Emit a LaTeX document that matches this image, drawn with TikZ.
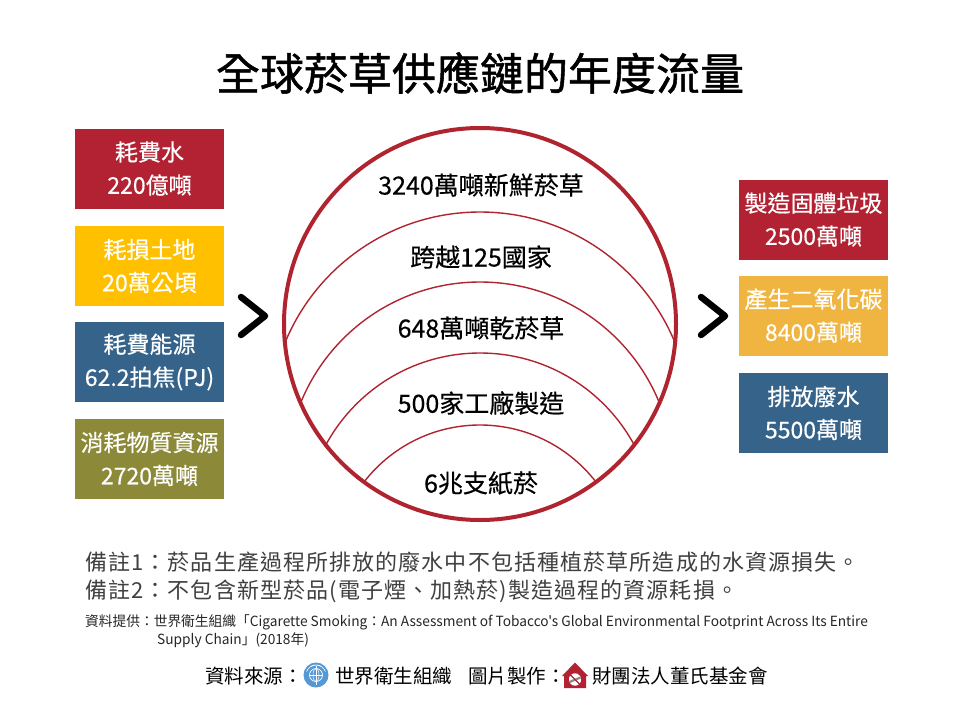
\documentclass[tikz,border=0pt]{standalone}
\usepackage{fontspec}
\setmainfont{Noto Sans CJK TC}
\newfontfamily\titlefont[FakeBold=1.2]{Noto Sans CJK TC}
\newfontfamily\medfont[FakeBold=0.4]{Noto Sans CJK TC}
\newfontfamily\notefont[LetterSpace=5]{Noto Sans CJK TC}
\newfontfamily\srcfont[FakeStretch=0.98]{Noto Sans CJK TC}
\definecolor{cred}{RGB}{178,34,50}
\definecolor{cyel}{RGB}{255,192,0}
\definecolor{cblue}{RGB}{53,99,138}
\definecolor{colive}{RGB}{140,138,56}
\definecolor{corange}{RGB}{240,180,64}
\definecolor{cring}{RGB}{176,36,48}
\definecolor{cnote}{RGB}{64,64,64}
\definecolor{whoblue}{RGB}{86,152,214}
\tikzset{
  infobox/.style={minimum width=149pt, minimum height=80pt, inner sep=0pt, align=center,
     text=white, font=\medfont\fontsize{23}{33}\selectfont},
  ringtext/.style={inner sep=0pt, font=\medfont\fontsize{25}{30}\selectfont, text=black},
  arcline/.style={draw=cring, line width=1.4pt},
  chev/.style={draw=black, line width=6.5pt, line cap=round, line join=round},
  notetext/.style={anchor=west, inner sep=0pt, text=cnote, font=\notefont\fontsize{22}{26}\selectfont},
  srctext/.style={anchor=west, inner sep=0pt, text=black!85, font=\srcfont\fontsize{14}{17}\selectfont},
  foottext/.style={anchor=west, inner sep=0pt, text=black, font=\fontsize{19.5}{23}\selectfont},
}
\begin{document}
\begin{tikzpicture}[x=1pt,y=-1pt]
\useasboundingbox[fill=white] (0,0) rectangle (960,720);

% title
\node[inner sep=0pt, font=\titlefont\fontsize{44}{50}\selectfont] (title) at (480,73) {全球菸草供應鏈的年度流量};

% left boxes
\node[infobox, fill=cred]   (w1) at (149.5,168.5) {耗費水\\220億噸};
\node[infobox, fill=cyel]   (w2) at (149.5,266)   {耗損土地\\20萬公頃};
\node[infobox, fill=cblue]  (w3) at (149.5,362)   {耗費能源\\62.2拍焦(PJ)};
\node[infobox, fill=colive] (w4) at (149.5,459)   {消耗物質資源\\2720萬噸};

% right boxes
\node[infobox, fill=cred]    (o1) at (813.5,219.5) {製造固體垃圾\\2500萬噸};
\node[infobox, fill=corange] (o2) at (813.5,315.5) {產生二氧化碳\\8400萬噸};
\node[infobox, fill=cblue]   (o3) at (813.5,413)   {排放廢水\\5500萬噸};

% chevrons
\draw[chev] (241,297) -- (265,316) -- (241,335);
\draw[chev] (701,297) -- (725,316) -- (701,335);

% ring with arcs
\begin{scope}
  \clip (480,324) circle[radius=195];
  \draw[arcline] (480,422.75) circle[radius=210.75];
  \draw[arcline] (480,475.45) circle[radius=193.45];
  \draw[arcline] (480,528.2)  circle[radius=175.2];
  \draw[arcline] (480,571.5)  circle[radius=146.5];
\end{scope}
\draw[cring, line width=4pt] (480,324) circle[radius=196];

\node[ringtext] (r1) at (481,185) {3240萬噸新鮮菸草};
\node[ringtext] (r2) at (481,257) {跨越125國家};
\node[ringtext] (r3) at (481,328) {648萬噸乾菸草};
\node[ringtext] (r4) at (481,403) {500家工廠製造};
\node[ringtext] (r5) at (481,483) {6兆支紙菸};

% notes
\node[notetext] (n1) at (85,562) {備註1：菸品生產過程所排放的廢水中不包括種植菸草所造成的水資源損失。};
\node[notetext] (n2) at (85,591) {備註2：不包含新型菸品(電子煙、加熱菸)製造過程的資源耗損。};
\node[srctext] (s1) at (85,622) {資料提供：世界衛生組織「Cigarette Smoking：An Assessment of Tobacco's Global Environmental Footprint Across Its Entire};
\node[srctext] (s2) at (157,640) {Supply Chain」(2018年)};

% footer
\node[foottext] (f1) at (205,676) {資料來源：};
\fill[whoblue] (316,675) circle[radius=12.5];
\draw[white, line width=0.7pt] (316,675) circle[radius=6.5];
\draw[white, line width=0.5pt] (309.5,675) -- (322.5,675);
\draw[white, line width=0.5pt] (316,675) ellipse[x radius=3, y radius=6.5];
\draw[white, line width=0.9pt] (316,666) -- (316,685);
\draw[white, line width=0.6pt] (316,675) ++(200:10) arc[start angle=200, end angle=300, radius=10];
\draw[white, line width=0.6pt] (316,675) ++(-20:10) arc[start angle=-20, end angle=-120, radius=10];
\node[foottext] (f2) at (335,676) {世界衛生組織};
\node[foottext] (f3) at (468,676) {圖片製作：};
\fill[cred] (562,676) -- (575,662.5) -- (588,676) -- (586,676) -- (586,688) -- (564,688) -- (564,676) -- cycle;
\fill[white] (575,679.5) circle[radius=7];
\fill[black!45] (569,681) -- (580,676.5) -- (581,678.5) -- (570,683) -- cycle;
\draw[cred, line width=1.4pt] (575,679.5) circle[radius=7];
\draw[cred, line width=1.4pt] (570,674.5) -- (580,684.5);
\node[foottext] (f4) at (592,676) {財團法人董氏基金會};
\end{tikzpicture}
\end{document}
